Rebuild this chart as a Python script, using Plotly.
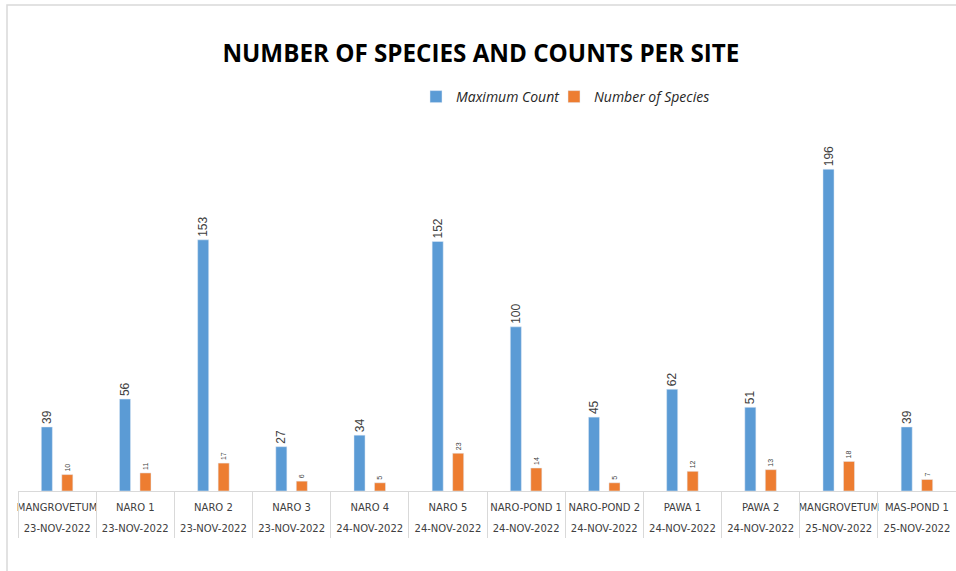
import plotly.graph_objects as go

# Survey sites and dates (one bar group per visit)
sites = ["MANGROVETUM", "NARO 1", "NARO 2", "NARO 3", "NARO 4", "NARO 5",
         "NARO-POND 1", "NARO-POND 2", "PAWA 1", "PAWA 2", "MANGROVETUM", "MAS-POND 1"]
dates = ["23-NOV-2022", "23-NOV-2022", "23-NOV-2022", "23-NOV-2022", "24-NOV-2022", "24-NOV-2022",
         "24-NOV-2022", "24-NOV-2022", "24-NOV-2022", "24-NOV-2022", "25-NOV-2022", "25-NOV-2022"]
max_count = [39, 56, 153, 27, 34, 152, 100, 45, 62, 51, 196, 39]
num_species = [10, 11, 17, 6, 5, 23, 14, 5, 12, 13, 18, 7]

# unique category keys (a site can be visited on more than one day)
keys = [f"{s} {d}" for s, d in zip(sites, dates)]
positions = list(range(len(keys)))
boundaries = [p - 0.5 for p in range(len(keys) + 1)]

BLUE = "#5B9BD5"
ORANGE = "#ED7D31"
GRID = "#D9D9D9"
TEXT = "#404040"

fig = go.Figure()
fig.add_trace(go.Bar(
    name="Maximum Count", x=keys, y=max_count, marker_color=BLUE, legend="legend",
    text=max_count, textposition="outside", textangle=-90, constraintext="none",
    textfont=dict(family="Liberation Sans, Arial", size=12, color=TEXT),
    cliponaxis=False,
))
fig.add_trace(go.Bar(
    name="Number of Species", x=keys, y=num_species, marker_color=ORANGE, legend="legend2",
    text=num_species, textposition="outside", textangle=-90, constraintext="none",
    textfont=dict(family="Liberation Sans, Arial", size=7, color=TEXT),
    cliponaxis=False,
))
# invisible carriers so the date row and the category separators get drawn
for ax, xs in (("x2", positions), ("x3", boundaries)):
    fig.add_trace(go.Scatter(x=xs, y=[0] * len(xs), xaxis=ax, mode="markers",
                             marker=dict(opacity=0), showlegend=False, hoverinfo="skip"))

legend_font = dict(family="Open Sans", size=14, color="#262626", style="italic")
legend_common = dict(xanchor="left", y=1.062, yanchor="middle", font=legend_font,
                     itemwidth=30, bgcolor="rgba(0,0,0,0)")

fig.update_layout(
    width=956, height=571,
    margin=dict(l=18, r=0, t=120, b=80),
    paper_bgcolor="white", plot_bgcolor="white",
    barmode="group", bargap=0.476, bargroupgap=0.46,
    title=dict(text="<b>NUMBER OF SPECIES AND COUNTS PER SITE</b>",
               font=dict(family="Open Sans", size=24.2, color="black"),
               x=0.503, xanchor="center", y=1 - 54 / 571, yanchor="middle", yref="container"),
    legend=dict(x=(416 - 18) / 938, **legend_common),
    legend2=dict(x=(554 - 18) / 938, **legend_common),
    xaxis=dict(type="category", categoryarray=keys, tickmode="array",
               tickvals=keys, ticktext=sites, ticks="", showline=True, linecolor=GRID,
               linewidth=1, showgrid=False, range=[-0.5, len(keys) - 0.5],
               tickfont=dict(family="DejaVu Sans", size=10, color=TEXT),
               ticklabelstandoff=7),
    xaxis2=dict(overlaying="x", anchor="y", side="bottom", range=[-0.5, len(keys) - 0.5],
                tickmode="array", tickvals=positions, ticktext=dates, ticks="",
                showgrid=False, showline=False, zeroline=False,
                tickfont=dict(family="DejaVu Sans", size=10, color=TEXT),
                ticklabelstandoff=30),
    xaxis3=dict(overlaying="x", anchor="y", side="bottom", range=[-0.5, len(keys) - 0.5],
                tickmode="array", tickvals=boundaries, ticks="outside", ticklen=46,
                tickcolor=GRID, tickwidth=1, showticklabels=False,
                showgrid=False, showline=False, zeroline=False),
    yaxis=dict(range=[0, 226], visible=False, showgrid=False, zeroline=False),
)

# outer chart frame
fig.add_shape(type="rect", xref="paper", yref="paper",
              x0=(7 - 18) / 938, x1=1.05, y0=-0.5, y1=(491 - 5) / 371,
              line=dict(color=GRID, width=1.5), fillcolor="rgba(0,0,0,0)", layer="below")

fig.write_html("out.html")
